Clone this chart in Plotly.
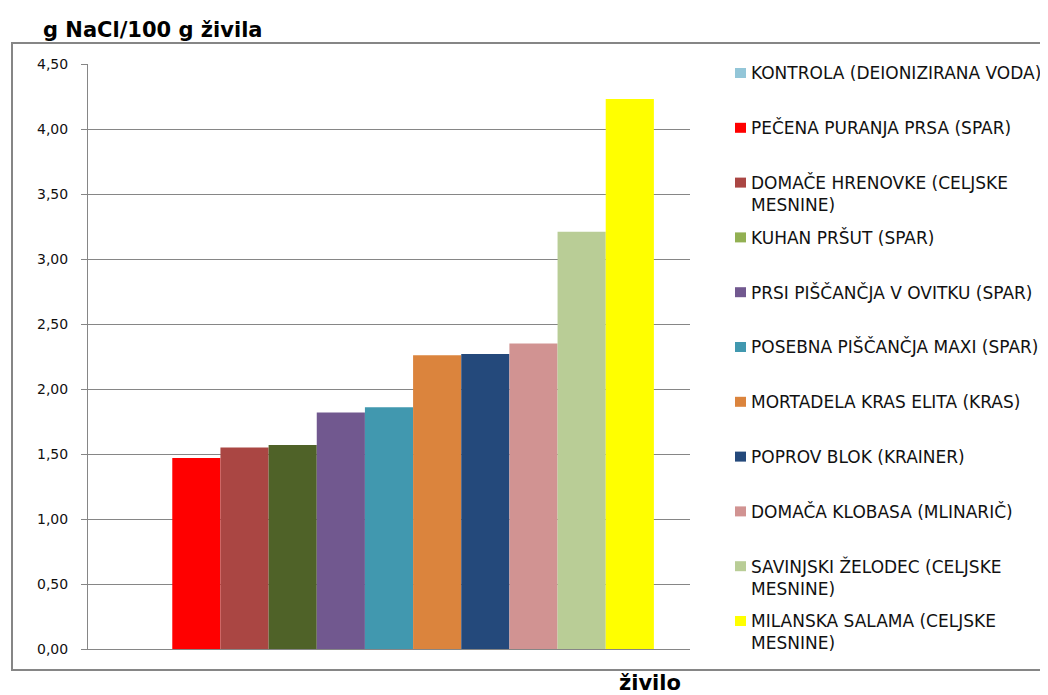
import plotly.graph_objects as go

# ---------------- data ----------------
categories = ["živilo"]
series_names = [
    "KONTROLA (DEIONIZIRANA VODA)",
    "PEČENA PURANJA PRSA (SPAR)",
    "DOMAČE HRENOVKE (CELJSKE<br>MESNINE)",
    "KUHAN PRŠUT (SPAR)",
    "PRSI PIŠČANČJA V OVITKU (SPAR)",
    "POSEBNA PIŠČANČJA MAXI (SPAR)",
    "MORTADELA KRAS ELITA (KRAS)",
    "POPROV BLOK (KRAINER)",
    "DOMAČA KLOBASA (MLINARIČ)",
    "SAVINJSKI ŽELODEC (CELJSKE<br>MESNINE)",
    "MILANSKA SALAMA (CELJSKE<br>MESNINE)",
]
series_values = [0.0, 1.47, 1.55, 1.57, 1.82, 1.86, 2.26, 2.27, 2.35, 3.21, 4.23]
bar_colors = ["#93C6D8", "#FF0000", "#AA4643", "#4F6228", "#71588F", "#4198AF",
              "#DB843D", "#24497B", "#D19392", "#B9CD96", "#FFFF00"]
legend_colors = ["#93C6D8", "#FF0000", "#AA4643", "#92B052", "#71588F", "#4198AF",
                 "#DB843D", "#24497B", "#D19392", "#B9CD96", "#FFFF00"]
y_tick_values = [0, 0.5, 1, 1.5, 2, 2.5, 3, 3.5, 4, 4.5]

# ---------------- layout geometry ----------------
# The page body has an 8 px margin, so the figure is made 8 px smaller
# and all page-pixel positions below are converted accordingly.
OFF = 8
PAGE_W, PAGE_H = 1048, 695
W, H = PAGE_W - OFF, PAGE_H - OFF
PL, PR, PT, PB = 88, 690, 64, 649          # plot area in page pixels
L, R, T, B = PL - OFF, PAGE_W - PR, PT - OFF, PAGE_H - PB
PW, PH = PR - PL, PB - PT
GRID = "#868686"


def px(xp):
    return (xp - PL) / PW


def py(yp):
    return (PB - yp) / PH


fig = go.Figure()
for name, val, col in zip(series_names, series_values, bar_colors):
    fig.add_trace(go.Bar(
        x=categories, y=[val], name=name.replace("<br>", " "),
        marker=dict(color=col, line=dict(width=0)),
        showlegend=False,
    ))

shapes = []
annotations = []

# outer chart frame
shapes.append(dict(type="rect", xref="paper", yref="paper",
                   x0=px(12), x1=px(1056), y0=py(670), y1=py(43),
                   line=dict(color=GRID, width=2), fillcolor="rgba(0,0,0,0)",
                   layer="below"))

# manual legend
FS = 17
LH = 1.3 * FS
y0_item = 73
step = 54.8
for i, (name, col) in enumerate(zip(series_names, legend_colors)):
    yc = y0_item + step * i
    shapes.append(dict(type="rect", xref="paper", yref="paper",
                       x0=px(735), x1=px(746), y0=py(yc + 5), y1=py(yc - 5),
                       line=dict(width=0), fillcolor=col))
    nlines = name.count("<br>") + 1
    annotations.append(dict(
        xref="paper", yref="paper", x=px(748.5), y=py(yc + (nlines - 1) * LH / 2),
        xanchor="left", yanchor="middle", align="left", showarrow=False,
        text=name, font=dict(family="DejaVu Sans", size=FS, color="#111111"),
    ))

# titles
annotations.append(dict(
    xref="paper", yref="paper", x=px(41), y=py(30), xanchor="left", yanchor="middle",
    showarrow=False, text="<b>g NaCl/100 g živila</b>",
    font=dict(family="DejaVu Sans", size=21, color="#000000"),
))
annotations.append(dict(
    xref="paper", yref="paper", x=px(650), y=py(683), xanchor="center", yanchor="middle",
    showarrow=False, text="<b>živilo</b>",
    font=dict(family="DejaVu Sans", size=21, color="#000000"),
))

fig.update_layout(
    width=W, height=H,
    margin=dict(l=L, r=R, t=T, b=B, pad=0),
    paper_bgcolor="white", plot_bgcolor="white",
    barmode="group", bargap=0.12, bargroupgap=0,
    separators=",.",
    showlegend=False,
    shapes=shapes, annotations=annotations,
    xaxis=dict(showticklabels=False, showgrid=False, zeroline=False,
               showline=True, linecolor=GRID, linewidth=1, ticks=""),
    yaxis=dict(range=[0, 4.5], tickvals=y_tick_values, tickformat=".2f",
               showgrid=True, gridcolor=GRID, gridwidth=1, zeroline=False,
               showline=True, linecolor=GRID, linewidth=1,
               ticks="outside", ticklen=6, tickcolor=GRID, ticklabelstandoff=10,
               tickfont=dict(family="DejaVu Sans", size=14, color="#111111")),
    font=dict(family="DejaVu Sans"),
)

fig.write_html("out.html")
